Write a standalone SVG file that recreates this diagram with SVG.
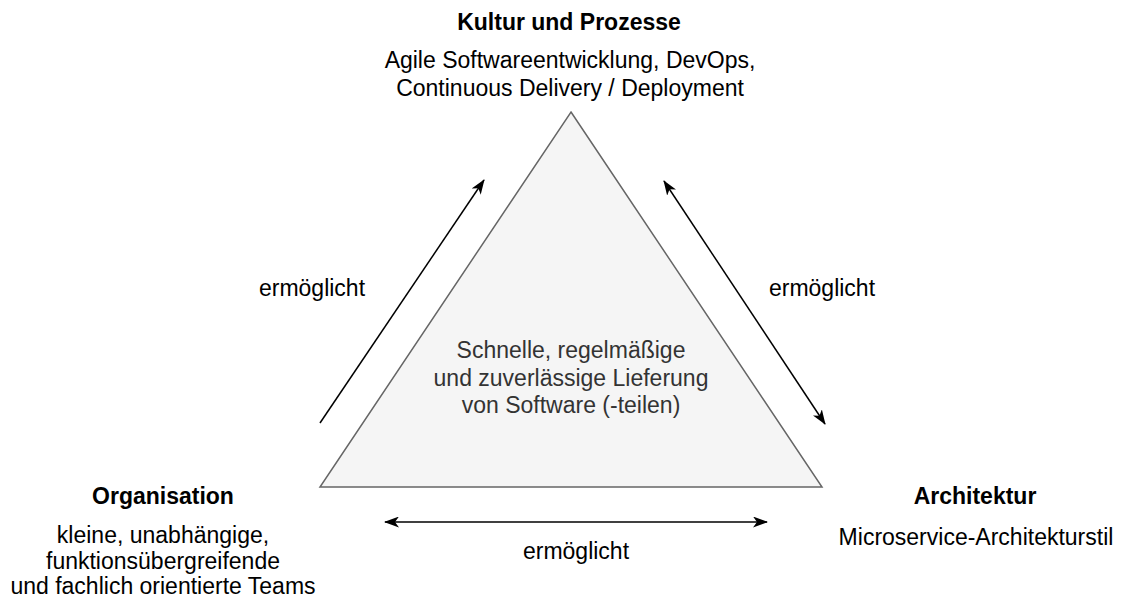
<svg xmlns="http://www.w3.org/2000/svg" width="1121" height="600" viewBox="0 0 1121 600">
  <style>
    text { font-family: "Liberation Sans", Arial, Helvetica, sans-serif; font-size: 23px; fill: #000000; text-anchor: middle; }
    .title { font-weight: bold; }
    .inner { fill: #333333; }
    .edge { stroke: #000000; stroke-width: 1.5; fill: none; }
  </style>
  <defs>
    <marker id="arrow" viewBox="0 0 15 11" refX="14" refY="5.5" markerWidth="15" markerHeight="11" markerUnits="userSpaceOnUse" orient="auto-start-reverse">
      <path d="M0,0 L15,5.5 L0,11 L4,5.5 Z" fill="#000000"/>
    </marker>
  </defs>
  <rect width="1121" height="600" fill="#ffffff"/>

  <!-- central triangle -->
  <g id="delivery">
    <polygon points="571,112 822,487 320,487" fill="#f5f5f5" stroke="#666666" stroke-width="1.5"/>
    <text class="inner" x="571" y="358">Schnelle, regelmäßige</text>
    <text class="inner" x="571" y="386">und zuverlässige Lieferung</text>
    <text class="inner" x="571" y="413">von Software (-teilen)</text>
  </g>

  <!-- corner labels -->
  <g id="culture">
    <text class="title" x="569" y="30">Kultur und Prozesse</text>
    <text x="570" y="68">Agile Softwareentwicklung, DevOps,</text>
    <text x="570" y="96">Continuous Delivery / Deployment</text>
  </g>
  <g id="organisation">
    <text class="title" x="163" y="504">Organisation</text>
    <text x="163" y="543">kleine, unabhängige,</text>
    <text x="163" y="569">funktionsübergreifende</text>
    <text x="163" y="594">und fachlich orientierte Teams</text>
  </g>
  <g id="architecture">
    <text class="title" x="975" y="504">Architektur</text>
    <text x="976" y="545">Microservice-Architekturstil</text>
  </g>

  <!-- connectors -->
  <g id="connectors">
    <line class="edge" x1="320" y1="423" x2="484" y2="180" marker-end="url(#arrow)"/>
    <line class="edge" x1="664" y1="181" x2="825" y2="424" marker-start="url(#arrow)" marker-end="url(#arrow)"/>
    <line class="edge" x1="385" y1="522" x2="767" y2="522" marker-start="url(#arrow)" marker-end="url(#arrow)"/>
    <text x="312" y="296">ermöglicht</text>
    <text x="822" y="296">ermöglicht</text>
    <text x="576" y="559">ermöglicht</text>
  </g>
</svg>
